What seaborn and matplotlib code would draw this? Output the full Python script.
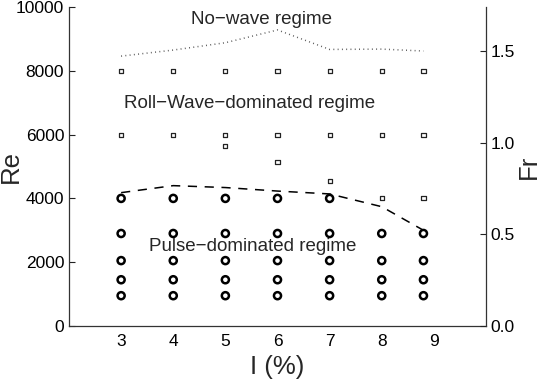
import numpy as np
import pandas as pd
import matplotlib
matplotlib.use("Agg")
import matplotlib.pyplot as plt
import seaborn as sns

sns.set_style("white")
plt.rcParams['font.family'] = ['Liberation Sans', 'DejaVu Sans']

# ---- data ----
I_cols = [3, 4, 5, 6, 7, 8, 8.8]
pulse_rows = [950, 1450, 2050, 2900, 4000]
pulse_rows_right = [950, 1450, 2050, 2900]        # columns 8 and 8.8
roll_I = [3, 4, 5, 6, 7, 8, 8.8, 3, 4, 5, 6, 7, 8, 8.8, 5, 6, 7, 8, 8.8]
roll_Re = [8000] * 7 + [6000] * 7 + [5650, 5150, 4550, 4000, 4000]
upper_I = [3, 4, 5, 6, 7, 8, 8.8]
upper_Re = [8460, 8650, 8880, 9280, 8670, 8680, 8620]
lower_I = [3, 4, 5, 6, 7, 8, 8.8]
lower_Re = [4180, 4400, 4340, 4230, 4140, 3740, 3000]
xticks = [3, 4, 5, 6, 7, 8, 9]
re_ticks = [0, 2000, 4000, 6000, 8000, 10000]
fr_ticks = [0.0, 0.5, 1.0, 1.5]
fr_labels = ["0.0", "0.5", "1.0", "1.5"]

pulse_I, pulse_Re = [], []
for c in I_cols:
    rows = pulse_rows if c <= 7 else pulse_rows_right
    for r in rows:
        pulse_I.append(c)
        pulse_Re.append(r)
pulse = pd.DataFrame({"I": pulse_I, "Re": pulse_Re})
roll = pd.DataFrame({"I": roll_I, "Re": roll_Re})
upper = pd.DataFrame({"I": upper_I, "Re": upper_Re})
lower = pd.DataFrame({"I": lower_I, "Re": lower_Re})

fig = plt.figure(figsize=(5.42, 3.85), dpi=100)
L, R, T, B = 69, 486, 7, 326
ax = fig.add_axes([L / 542, (385 - B) / 385, (R - L) / 542, (B - T) / 385])

sns.lineplot(data=upper, x="I", y="Re", ax=ax, color="#555555", lw=1.1,
             linestyle=(0, (0.6, 2.2)), sort=False)
sns.lineplot(data=lower, x="I", y="Re", ax=ax, color="black", lw=1.1,
             linestyle=(0, (6, 5)), sort=False)
sns.scatterplot(data=pulse, x="I", y="Re", ax=ax, marker="o", s=26,
                facecolors="none", edgecolor="black", linewidth=1.8, zorder=3)
sns.scatterplot(data=roll, x="I", y="Re", ax=ax, marker="s", s=9,
                facecolors="none", edgecolor="#222222", linewidth=0.9, zorder=3)

ax.set_xlim(2, 10)
ax.set_ylim(0, 10000)
ax.set_xticks(xticks)
ax.set_yticks(re_ticks)
ax.set_xlabel("I (%)", fontsize=18.5)
ax.set_ylabel("Re", fontsize=18.5)
ax.xaxis.set_label_coords(0.5, -0.09)
ax.yaxis.set_label_coords(-0.11, 0.5)

ax.text(5.69, 9600, "No\u2212wave regime", ha="center", va="center", fontsize=13.5)
ax.text(5.46, 6960, "Roll\u2212Wave\u2212dominated regime", ha="center", va="center", fontsize=13.5)
ax.text(5.53, 2480, "Pulse\u2212dominated regime", ha="center", va="center", fontsize=13.5)

ax2 = ax.twinx()
ax2.set_ylim(0, 1.743)
ax2.set_yticks(fr_ticks)
ax2.set_yticklabels(fr_labels)
ax2.set_ylabel("Fr", fontsize=18.5)
ax2.yaxis.set_label_coords(1.074, 0.5)

for a in (ax, ax2):
    a.tick_params(direction="in", length=4, width=0.8, labelsize=12.5, colors="#222222",
                  labelcolor="black")
    for s in a.spines.values():
        s.set_color("#333333")
        s.set_linewidth(0.9)
    a.spines["top"].set_visible(False)
ax.spines["right"].set_visible(False)
ax2.spines["left"].set_visible(False)
ax2.spines["bottom"].set_visible(False)
ax.tick_params(axis="x", pad=6)

fig.savefig("out.png", dpi=100)
